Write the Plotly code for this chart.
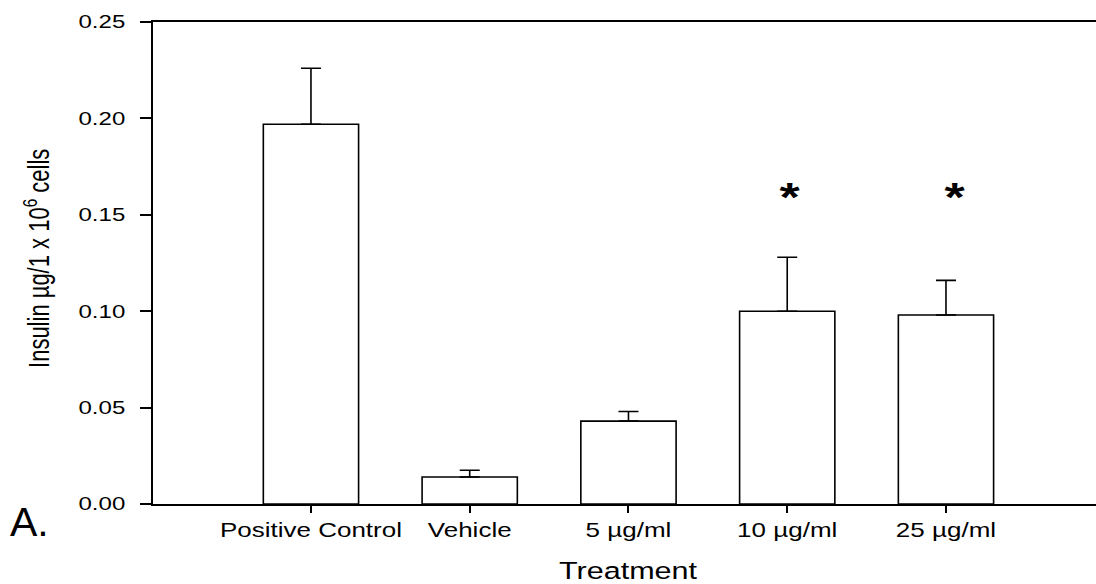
import plotly.graph_objects as go

# Insulin secretion per treatment (mean and upper SEM)
treatments = ["Positive Control", "Vehicle", "5 µg/ml", "10 µg/ml", "25 µg/ml"]
insulin = [0.197, 0.014, 0.043, 0.100, 0.098]
insulin_sem = [0.029, 0.0035, 0.005, 0.028, 0.018]
significant = [False, False, False, True, True]
y_ticks = [0.00, 0.05, 0.10, 0.15, 0.20, 0.25]
y_tick_labels = ["0.00", "0.05", "0.10", "0.15", "0.20", "0.25"]

FONT = "Liberation Sans, Arial, Helvetica, sans-serif"
positions = list(range(len(treatments)))

fig = go.Figure(
    go.Bar(
        x=positions,
        y=insulin,
        width=0.6,
        marker=dict(color="white", line=dict(color="black", width=1.6)),
        error_y=dict(
            type="data",
            symmetric=False,
            array=insulin_sem,
            arrayminus=[0] * len(insulin_sem),
            color="black",
            thickness=1.6,
            width=10,
        ),
        hoverinfo="skip",
    )
)

annotations = []
# significance markers above the treated groups
for i, sig in enumerate(significant):
    if sig:
        annotations.append(dict(
            x=positions[i], y=0.159, xref="x", yref="y", text="*",
            showarrow=False, xanchor="center", yanchor="middle",
            xshift=3 if i == 3 else 9,
            font=dict(family=FONT, size=40, color="black", weight="bold"),
        ))

# axis titles and panel letter
annotations += [
    dict(x=0, y=0.5, xref="paper", yref="paper", xanchor="center", yanchor="middle",
         xshift=-116, yshift=4, textangle=-90, showarrow=False,
         text="Insulin µg/1 x 10<sup>6</sup> cells",
         font=dict(family=FONT, size=22, color="black")),
    dict(x=2, y=0, xref="x", yref="paper", xanchor="center", yanchor="middle",
         yshift=-67, showarrow=False, text="Treatment",
         font=dict(family=FONT, size=23.5, color="black")),
    dict(x=0, y=0, xref="paper", yref="paper", xanchor="left", yanchor="middle",
         xshift=-145, yshift=-18, showarrow=False, text="A.",
         font=dict(family=FONT, size=41, color="black")),
]

fig.update_layout(
    width=1096,
    height=584,
    margin=dict(l=153, r=0, t=22, b=80),
    paper_bgcolor="white",
    plot_bgcolor="white",
    showlegend=False,
    font=dict(family=FONT, color="black"),
    annotations=annotations,
    xaxis=dict(
        range=[-0.995, 4.945],
        tickmode="array",
        tickvals=positions,
        ticktext=treatments,
        ticks="outside",
        ticklen=7,
        tickwidth=1.6,
        tickcolor="black",
        showline=True,
        linecolor="black",
        linewidth=2,
        mirror=True,
        showgrid=False,
        zeroline=False,
        tickfont=dict(family=FONT, size=20, color="black"),
    ),
    yaxis=dict(
        range=[0, 0.25],
        tickmode="array",
        tickvals=y_ticks,
        ticktext=y_tick_labels,
        ticks="outside",
        ticklen=11,
        tickwidth=1.6,
        tickcolor="black",
        ticklabelstandoff=11,
        showline=True,
        linecolor="black",
        linewidth=2,
        showgrid=False,
        zeroline=False,
        tickfont=dict(family=FONT, size=18.5, color="black"),
    ),
)

# Widen labels horizontally on screen (right-aligned labels keep their right
# edge); the panel letter keeps its natural proportions.
stretch_js = """
var gd = document.getElementById('{plot_id}');
var S = 1.3;
gd.querySelectorAll('svg text').forEach(function (t) {
  if (t.textContent === 'A.') return;
  var r = t.getBoundingClientRect();
  if (!r.width) return;
  var px = t.getAttribute('text-anchor') === 'end' ? r.right : r.left + r.width / 2;
  var py = r.top + r.height / 2;
  var svg = t.ownerSVGElement;
  var P = t.parentNode.getScreenCTM();
  var K = svg.createSVGMatrix().translate(px, py).scaleNonUniform(S, 1).translate(-px, -py);
  var M = P.inverse().multiply(K).multiply(P);
  var old = t.getAttribute('transform') || '';
  t.setAttribute('transform', 'matrix(' + [M.a, M.b, M.c, M.d, M.e, M.f].join(',') + ') ' + old);
});
"""

fig.write_html("out.html", config={"displayModeBar": False}, post_script=stretch_js)
